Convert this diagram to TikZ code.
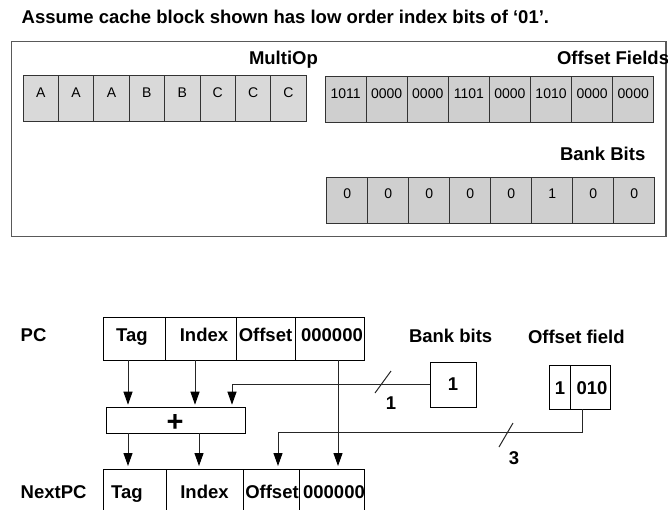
\documentclass[tikz,border=0pt]{standalone}
\usepackage{fontspec}
\setmainfont{Liberation Sans}
\usetikzlibrary{arrows.meta}
\definecolor{cellA}{HTML}{D9D9D9}
\definecolor{cellB}{HTML}{CFCFCF}
\begin{document}
\begin{tikzpicture}[x=1pt,y=-1pt,
  lbl/.style={font=\fontsize{18.5}{22}\selectfont\bfseries, inner sep=0, outer sep=0},
  celltxt/.style={font=\fontsize{14}{16}\selectfont, inner sep=0, outer sep=0},
  cell/.style={draw=black!80, line width=0.8pt, inner sep=0, outer sep=0, anchor=north west},
  field/.style={draw=black, line width=0.9pt, inner sep=0, outer sep=0, anchor=north west},
  frame/.style={draw=black!65, line width=1.3pt},
  conn/.style={draw=black!85, line width=1pt},
  arr/.style={conn, -{Triangle[length=13pt,width=9pt,color=black]}, shorten >=3pt},
]
\useasboundingbox (0,0) rectangle (668,509);
\path[clip] (0,0) rectangle (668,509);

% heading
\node[lbl, anchor=base west] (title) at (21.7,23)
  {Assume cache block shown has low order index bits of ‘01’.};

% cache block frame
\draw[frame] (11.7,41.7) rectangle (666,236.5);
\node[lbl, anchor=base west] (multiop) at (249,64) {MultiOp};
\node[lbl, anchor=base west] (offfields) at (557,64) {Offset Fields};
\node[lbl, anchor=base west] (bankbits) at (560,160) {Bank Bits};

% MultiOp cells
\foreach \t [count=\i from 0] in {A,A,A,B,B,C,C,C}{
  \node[cell, fill=cellA, minimum width=35.4pt, minimum height=46pt]
    (mo\i) at (23+35.4*\i,75) {};
  \node[celltxt, anchor=base] (mot\i) at (23+35.4*\i+17.7,97) {\t};
}
% offset field cells
\foreach \t [count=\i from 0] in {1011,0000,0000,1101,0000,1010,0000,0000}{
  \node[cell, fill=cellB, minimum width=41.1pt, minimum height=46.3pt]
    (of\i) at (325+41.1*\i,76) {};
  \node[celltxt, anchor=base] (oft\i) at (325+41.1*\i+20.55,98.3) {\t};
}
% bank bit cells
\foreach \t [count=\i from 0] in {0,0,0,0,0,1,0,0}{
  \node[cell, fill=cellB, minimum width=41pt, minimum height=46pt]
    (bk\i) at (326.7+41*\i,177.3) {};
  \node[celltxt, anchor=base] (bkt\i) at (326.7+41*\i+20.5,198.7) {\t};
}

% PC register
\node[lbl, anchor=base west] (pclbl) at (20.7,341.7) {PC};
\node[field, minimum width=62pt, minimum height=42.3pt] (pctag)  at (103,317.7) {};
\node[field, minimum width=71pt, minimum height=42.3pt] (pcidx)  at (165,317.7) {};
\node[field, minimum width=59pt, minimum height=42.3pt] (pcoff)  at (236,317.7) {};
\node[field, minimum width=69pt, minimum height=42.3pt] (pczero) at (295,317.7) {};
\node[lbl, anchor=base] (pctagt)  at (132,341.7)   {Tag};
\node[lbl, anchor=base] (pcidxt)  at (204,341.7)   {Index};
\node[lbl, anchor=base] (pcofft)  at (265.5,341.7) {Offset};
\node[lbl, anchor=base] (pczerot) at (332,341.7)   {000000};

% adder
\node[field, anchor=center, minimum width=139pt, minimum height=25.6pt] (adder) at (176.2,420.5) {};
\node[font=\fontsize{29}{30}\selectfont\bfseries, inner sep=0] (plus) at (175,422.5) {+};

% NextPC register
\node[lbl, anchor=base west] (nlbl) at (20.7,498.3) {NextPC};
\node[field, minimum width=63pt, minimum height=60pt] (ntag)  at (103,469) {};
\node[field, minimum width=77pt, minimum height=60pt] (nidx)  at (166,469) {};
\node[field, minimum width=56pt, minimum height=60pt] (noff)  at (243,469) {};
\node[field, minimum width=65pt, minimum height=60pt] (nzero) at (299,469) {};
\node[lbl, anchor=base] (ntagt)  at (127,498.3)   {Tag};
\node[lbl, anchor=base] (nidxt)  at (204.5,498.3) {Index};
\node[lbl, anchor=base] (nofft)  at (272,498.3)   {Offset};
\node[lbl, anchor=base] (nzerot) at (334,498.3)   {000000};

% bank bit and offset field inputs
\node[lbl, anchor=base west] (bblbl) at (409,342.3) {Bank bits};
\node[field, anchor=center, minimum width=46pt, minimum height=45pt] (bb) at (453,384.5) {};
\node[lbl] (bbt) at (453,384.5) {1};
\node[lbl, anchor=base west] (oflbl) at (528,343.3) {Offset field};
\node[field, anchor=center, minimum width=21pt, minimum height=44pt] (ofa) at (559.5,387) {};
\node[field, anchor=center, minimum width=40pt, minimum height=44pt] (ofb) at (590,387) {};
\node[lbl, anchor=base] (ofat) at (560,394) {1};
\node[lbl, anchor=base] (ofbt) at (592,394) {010};

% connector columns
\coordinate (xa) at (128,0);
\coordinate (xb) at (195,0);
\coordinate (xc) at (232,0);
\coordinate (xd) at (199,0);
\coordinate (xe) at (278,432);
\coordinate (xf) at (338,0);
\coordinate (xg) at (582,0);

% connectors
\draw[arr] (pctag.south -| xa) -- (adder.north -| xa);
\draw[arr] (pcidx.south -| xb) -- (adder.north -| xb);
\draw[arr] (bb.west) -| (adder.north -| xc);
\draw[arr] (adder.south -| xa) -- (ntag.north -| xa);
\draw[arr] (adder.south -| xd) -- (nidx.north -| xd);
\draw[arr] (ofb.south -| xg) |- (xe) -- (noff.north -| xe);
\draw[arr] (pczero.south -| xf) -- (nzero.north -| xf);

% bus width marks
\draw[conn] (375,393) -- (391,371);
\node[lbl] (w1) at (391,403.5) {1};
\draw[conn] (499,447) -- (513,423);
\node[lbl] (w3) at (514,458.3) {3};
\end{tikzpicture}
\end{document}
